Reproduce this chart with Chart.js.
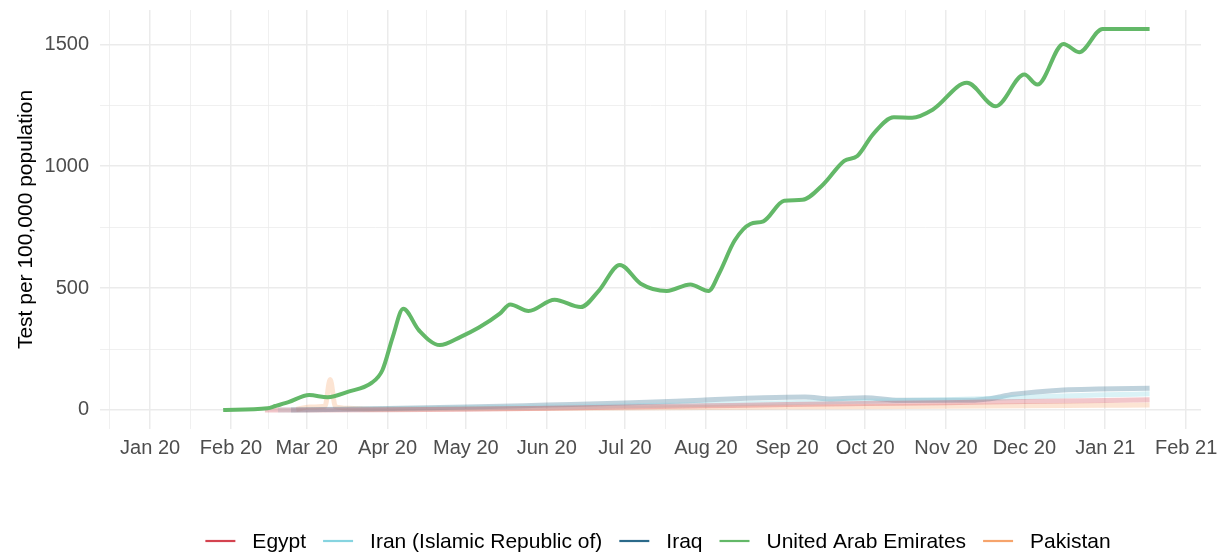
<!DOCTYPE html>
<html>
<head>
<meta charset="utf-8">
<script src="https://cdn.jsdelivr.net/npm/chart.js@4.4.1/dist/chart.umd.min.js"></script>
<style>
html,body{margin:0;padding:0;background:#ffffff;}
#wrap{width:1230px;height:554px;position:relative;}
</style>
</head>
<body>
<div id="wrap"><canvas id="chart" width="1230" height="554"></canvas></div>
<script>
// ---------- data ----------
const seriesNames = ['Egypt', 'Iran (Islamic Republic of)', 'Iraq', 'United Arab Emirates', 'Pakistan'];
const seriesColors = ['#d4434f', '#86d4e0', '#2b6a8a', '#63b868', '#f6a46c'];

const egyptDates = ['2020-02-14','2020-04-01','2020-05-01','2020-06-01','2020-07-01','2020-08-01','2020-09-01','2020-10-01','2020-11-01','2020-12-01','2021-01-01','2021-01-18'];
const egyptValues = [0, 1, 3, 7, 12, 17, 22, 26, 30, 35, 39, 42];

const iranDates = ['2020-02-19','2020-04-01','2020-06-01','2020-08-01','2020-09-01','2020-10-01','2020-11-01','2020-12-01','2021-01-01','2021-01-18'];
const iranValues = [0, 4, 12, 22, 30, 36, 42, 52, 62, 66];

const iraqDates = ['2020-02-24','2020-04-01','2020-05-01','2020-06-01','2020-07-01','2020-07-30','2020-08-23','2020-09-08','2020-09-18','2020-10-01','2020-10-14','2020-11-12','2020-11-17','2020-11-27','2020-12-16','2020-12-29','2021-01-18'];
const iraqValues = [0, 6, 12, 20, 28, 40, 50, 53, 45, 50, 40, 40, 45, 64, 82, 86, 89];

const uaeDates = ['2020-01-29','2020-02-15','2020-02-18','2020-02-23','2020-03-02','2020-03-09','2020-03-17','2020-03-26','2020-03-30','2020-04-03','2020-04-07','2020-04-13','2020-04-21','2020-04-29','2020-05-06','2020-05-14','2020-05-18','2020-05-25','2020-06-04','2020-06-14','2020-06-21','2020-06-29','2020-07-07','2020-07-17','2020-07-26','2020-08-02','2020-08-06','2020-08-12','2020-08-18','2020-08-23','2020-08-31','2020-09-07','2020-09-15','2020-09-23','2020-09-28','2020-10-04','2020-10-12','2020-10-19','2020-10-27','2020-11-09','2020-11-20','2020-12-01','2020-12-06','2020-12-16','2020-12-22','2020-12-31','2021-01-18'];
const uaeValues = [0, 7, 16, 32, 61, 52, 75, 112, 163, 300, 415, 327, 266, 300, 338, 395, 433, 406, 452, 422, 490, 595, 518, 488, 515, 488, 559, 695, 763, 774, 858, 862, 926, 1022, 1042, 1131, 1201, 1199, 1233, 1342, 1246, 1376, 1335, 1502, 1468, 1563, 1563];

const pakistanDates = ['2020-02-26','2020-03-02','2020-03-08','2020-03-10','2020-03-12','2020-03-17','2020-03-26','2020-05-01','2020-07-01','2020-09-01','2020-11-01','2021-01-01','2021-01-18'];
const pakistanValues = [2, 12, 15, 125, 14, 7, 3, 5, 8, 12, 15, 19, 20];

const xTickDates = ['2020-01-01','2020-02-01','2020-03-01','2020-04-01','2020-05-01','2020-06-01','2020-07-01','2020-08-01','2020-09-01','2020-10-01','2020-11-01','2020-12-01','2021-01-01','2021-02-01'];
const xTickLabels = ['Jan 20','Feb 20','Mar 20','Apr 20','May 20','Jun 20','Jul 20','Aug 20','Sep 20','Oct 20','Nov 20','Dec 20','Jan 21','Feb 21'];
const yTickValues = [0, 500, 1000, 1500];
const yMinorValues = [250, 750, 1250];
const yAxisTitle = 'Test per 100,000 population';

// ---------- helpers ----------
const DAY0 = Date.UTC(2020, 0, 1);
function dayOf(s) {
  const p = s.split('-').map(Number);
  return (Date.UTC(p[0], p[1] - 1, p[2]) - DAY0) / 86400000;
}
function toPoints(dates, values) {
  return dates.map((d, i) => ({ x: dayOf(d), y: values[i] }));
}
function fade(hex, a) {
  const n = parseInt(hex.slice(1), 16);
  return 'rgba(' + ((n >> 16) & 255) + ',' + ((n >> 8) & 255) + ',' + (n & 255) + ',' + a + ')';
}

const majorX = xTickDates.map(dayOf);
const minorX = [];
minorX.push(majorX[0] - (majorX[1] - majorX[0]) / 2);
for (let i = 0; i < majorX.length - 1; i++) minorX.push((majorX[i] + majorX[i + 1]) / 2);
const allX = majorX.concat(minorX).sort((a, b) => a - b);
const allY = yTickValues.concat(yMinorValues).sort((a, b) => a - b);

const seriesDates = [egyptDates, iranDates, iraqDates, uaeDates, pakistanDates];
const seriesValues = [egyptValues, iranValues, iraqValues, uaeValues, pakistanValues];
const highlighted = 'United Arab Emirates';

const datasets = seriesNames.map((name, i) => {
  const hi = name === highlighted;
  return {
    label: name,
    data: toPoints(seriesDates[i], seriesValues[i]),
    borderColor: hi ? seriesColors[i] : fade(seriesColors[i], 0.3),
    borderWidth: hi ? 4 : 5,
    pointRadius: 0,
    fill: false,
    cubicInterpolationMode: 'monotone',
    order: hi ? 0 : 1
  };
});

const FONT = "'Liberation Sans', Arial, Helvetica, sans-serif";
const GRID = '#ebebeb';

const legendPlugin = {
  id: 'customLegend',
  afterDraw(chart) {
    const ctx = chart.ctx;
    ctx.save();
    ctx.font = '21px ' + FONT;
    const lineLen = 30, gap = 17;
    const widths = seriesNames.map(n => ctx.measureText(n).width);
    let total = 0;
    widths.forEach((w, i) => { total += lineLen + gap + w + (i < widths.length - 1 ? gap : 0); });
    let x = 658 - total / 2;
    const y = 541;
    seriesNames.forEach((n, i) => {
      ctx.strokeStyle = seriesColors[i];
      ctx.lineWidth = 2.2;
      ctx.beginPath();
      ctx.moveTo(x, y);
      ctx.lineTo(x + lineLen, y);
      ctx.stroke();
      x += lineLen + gap;
      ctx.fillStyle = '#000000';
      ctx.textBaseline = 'alphabetic';
      ctx.textAlign = 'left';
      ctx.fillText(n, x, 548);
      x += widths[i] + gap;
    });
    ctx.restore();
  }
};

function noPad(s) { s.paddingTop = 0; s.paddingBottom = 0; s.paddingLeft = 0; s.paddingRight = 0; }

new Chart(document.getElementById('chart'), {
  type: 'line',
  data: { datasets: datasets },
  options: {
    responsive: false,
    devicePixelRatio: 1,
    animation: false,
    events: [],
    layout: { padding: { left: 0, right: 29, top: 10, bottom: 0 } },
    plugins: { legend: { display: false }, tooltip: { enabled: false } },
    scales: {
      x: {
        type: 'linear',
        min: -19.2,
        max: 402.7,
        afterBuildTicks: s => { s.ticks = allX.map(v => ({ value: v })); },
        afterFit: s => { s.height = 125; noPad(s); },
        border: { display: false },
        grid: {
          drawTicks: false,
          color: GRID,
          lineWidth: c => (c.tick && majorX.includes(c.tick.value)) ? 1.5 : 0.75
        },
        ticks: {
          autoSkip: false,
          maxRotation: 0,
          minRotation: 0,
          padding: 7,
          color: '#4d4d4d',
          font: { family: FONT, size: 20 },
          callback: v => { const k = majorX.indexOf(v); return k >= 0 ? xTickLabels[k] : ''; }
        }
      },
      y: {
        type: 'linear',
        min: -78.2,
        max: 1641,
        afterBuildTicks: s => { s.ticks = allY.map(v => ({ value: v })); },
        afterFit: s => { s.width = 100; noPad(s); },
        border: { display: false },
        grid: {
          drawTicks: false,
          color: GRID,
          lineWidth: c => (c.tick && yTickValues.includes(c.tick.value)) ? 1.5 : 0.75
        },
        ticks: {
          padding: 11,
          color: '#4d4d4d',
          font: { family: FONT, size: 20 },
          callback: v => yTickValues.includes(v) ? String(v) : ''
        },
        title: {
          display: true,
          text: yAxisTitle,
          color: '#000000',
          font: { family: FONT, size: 21 },
          padding: { top: 14, bottom: 0 }
        }
      }
    }
  },
  plugins: [legendPlugin]
});
</script>
</body>
</html>
